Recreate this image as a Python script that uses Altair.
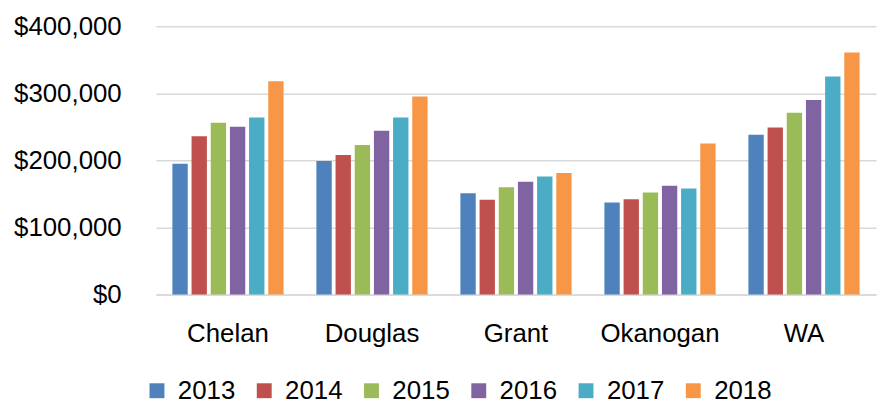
import altair as alt
import pandas as pd

regions = ["Chelan", "Douglas", "Grant", "Okanogan", "WA"]
years = ["2013", "2014", "2015", "2016", "2017", "2018"]
values = {
    "Chelan":   [195000, 236000, 256000, 250000, 264000, 318000],
    "Douglas":  [199000, 208000, 223000, 244000, 264000, 295000],
    "Grant":    [151000, 141000, 160000, 168000, 176000, 181000],
    "Okanogan": [137000, 142000, 152000, 162000, 158000, 225000],
    "WA":       [238000, 249000, 271000, 290000, 325000, 361000],
}
colors = ["#4F81BD", "#C0504D", "#9BBB59", "#8064A2", "#4BACC6", "#F79646"]

rows = []
for r in regions:
    for y, v in zip(years, values[r]):
        rows.append({"region": r, "year": y, "value": v})
df = pd.DataFrame(rows)

FONT = "Liberation Sans"

chart = alt.Chart(df).mark_bar().encode(
    x=alt.X("region:N", sort=regions, title=None,
            scale=alt.Scale(paddingInner=0, paddingOuter=0),
            axis=alt.Axis(labelAngle=0, labelFont=FONT, labelFontSize=26,
                          labelColor="#000000", ticks=False, tickSize=0,
                          labelPadding=26, domainColor="#d9d9d9",
                          domainWidth=1.5, grid=False)),
    xOffset=alt.XOffset("year:N", sort=years,
                        scale=alt.Scale(paddingInner=0.2, paddingOuter=0.855)),
    y=alt.Y("value:Q", title=None,
            scale=alt.Scale(domain=[0, 400000], nice=False),
            axis=alt.Axis(values=[0, 100000, 200000, 300000, 400000],
                          format="$,.0f", labelFont=FONT, labelFontSize=26,
                          labelColor="#000000", ticks=False, tickSize=0,
                          labelPadding=35, domain=False,
                          gridColor="#d9d9d9", gridWidth=1.5)),
    color=alt.Color("year:N", sort=years,
                    scale=alt.Scale(domain=years, range=colors),
                    legend=alt.Legend(title=None, orient="none",
                                      direction="horizontal",
                                      legendX=-12, legendY=354,
                                      symbolType="square", symbolSize=225,
                                      symbolStrokeWidth=0, symbolOpacity=1,
                                      labelFont=FONT, labelFontSize=26,
                                      labelColor="#000000", labelOffset=8,
                                      columnPadding=16, padding=0)),
).properties(
    width=725,
    height=270,
    autosize=alt.AutoSizeParams(type="none"),
    padding={"left": 149, "top": 17, "right": 4, "bottom": 108},
).configure_view(stroke=None)

chart.save("out.html", embed_options={"renderer": "svg", "actions": False})
